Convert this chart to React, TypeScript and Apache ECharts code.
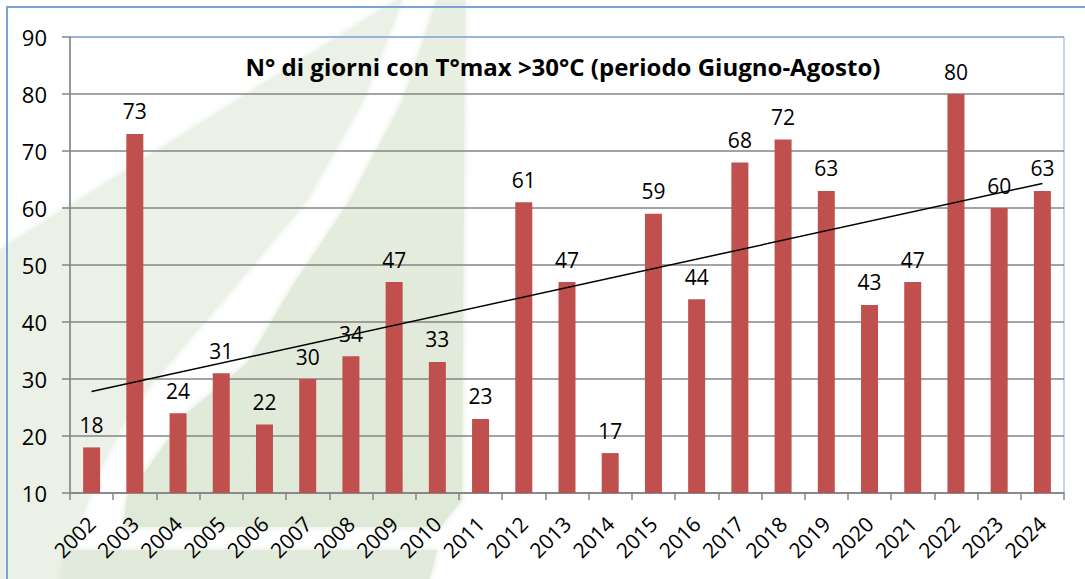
import React, { useEffect, useRef } from "react";
import * as echarts from "echarts";

const years = ["2002","2003","2004","2005","2006","2007","2008","2009","2010","2011","2012","2013","2014","2015","2016","2017","2018","2019","2020","2021","2022","2023","2024"];
const days = [18,73,24,31,22,30,34,47,33,23,61,47,17,59,44,68,72,63,43,47,80,60,63];
const trendYears = ["2002","2024"];
const trendValues = [27.8, 64.3];
const yTicks = { min: 10, max: 90, interval: 10 };
const titleText = "N° di giorni con T°max >30°C (periodo Giugno-Agosto)";

const FONT = "'Open Sans', sans-serif";

export default function App() {
  const ref = useRef<HTMLDivElement>(null);
  useEffect(() => {
    if (!ref.current) return;
    const chart = echarts.init(ref.current, undefined, { renderer: "svg" });
    const gridColors = ["#858585","#858585","#858585","#858585","#858585","#858585","#858585","#858585","#8eaad6"];
    const soft = { shadowBlur: 6, shadowColor: "rgba(200,220,190,0.6)" };
    chart.setOption({
      animation: false,
      backgroundColor: "#ffffff",
      graphic: [
        {
          type: "polygon", z: -10,
          shape: { points: [[0,250],[397,0],[402,0],[363,100],[307,200],[240,280],[180,350],[130,410],[95,480],[60,579],[0,579]] },
          style: { fill: "#ebf1e6", ...soft },
        },
        {
          type: "polygon", z: -10,
          shape: { points: [[437,0],[465,0],[462,500],[440,527],[123,527],[127,497],[187,413],[247,363],[290,290],[350,200],[403,100]] },
          style: {
            fill: { type: "linear", x: 0, y: 0, x2: 0, y2: 1, colorStops: [ { offset: 0, color: "#e9f0e3" }, { offset: 0.6, color: "#e2ebdb" }, { offset: 1, color: "#dfe9d7" } ] },
            ...soft,
          },
        },
        {
          type: "polygon", z: -10,
          shape: { points: [[67,550],[437,550],[430,579],[60,579]] },
          style: { fill: "#e2ebdb", ...soft },
        },
        { type: "rect", z: 50, shape: { x: 7, y: 7, width: 1100, height: 600 }, style: { fill: "none", stroke: "#7ba2d4", lineWidth: 2 } },
        { type: "text", z: 100, x: 563, y: 66, style: { text: titleText, font: `bold 24px ${FONT}`, fill: "#000", textAlign: "center", textVerticalAlign: "middle" } },
      ],
      grid: { left: 70, top: 37, right: 21, bottom: 86, show: true, borderColor: "#8eaad6", borderWidth: 1, backgroundColor: "transparent" },
      xAxis: {
        type: "category",
        data: years,
        boundaryGap: true,
        axisLine: { lineStyle: { color: "#858585", width: 1.5 } },
        axisTick: { show: true, length: 7, alignWithLabel: false, lineStyle: { color: "#858585", width: 1.5 } },
        axisLabel: { rotate: 45, margin: 27, color: "#000", fontSize: 21, fontFamily: FONT, interval: 0 },
      },
      yAxis: {
        type: "value",
        min: yTicks.min,
        max: yTicks.max,
        interval: yTicks.interval,
        axisLine: { show: true, lineStyle: { color: "#858585", width: 1.5 } },
        axisTick: { show: true, length: 8, lineStyle: { color: "#858585", width: 1.5 } },
        axisLabel: { color: "#000", fontSize: 22, fontFamily: FONT, margin: 23 },
        splitLine: { show: true, lineStyle: { color: gridColors, width: 1.5 } },
      },
      series: [
        {
          type: "bar",
          data: days,
          barWidth: 17,
          itemStyle: { color: "#c0504d" },
          label: { show: true, position: "top", distance: 12, color: "#000", fontSize: 21, fontFamily: FONT },
          z: 2,
        },
        {
          type: "line",
          data: trendYears.map((y, i) => [y, trendValues[i]]),
          symbol: "none",
          lineStyle: { color: "#000", width: 1.5 },
          z: 3,
          silent: true,
        },
      ],
    });
    return () => chart.dispose();
  }, []);
  return <div ref={ref} style={{ position: "fixed", left: 0, top: 0, width: 1085, height: 579 }} />;
}
